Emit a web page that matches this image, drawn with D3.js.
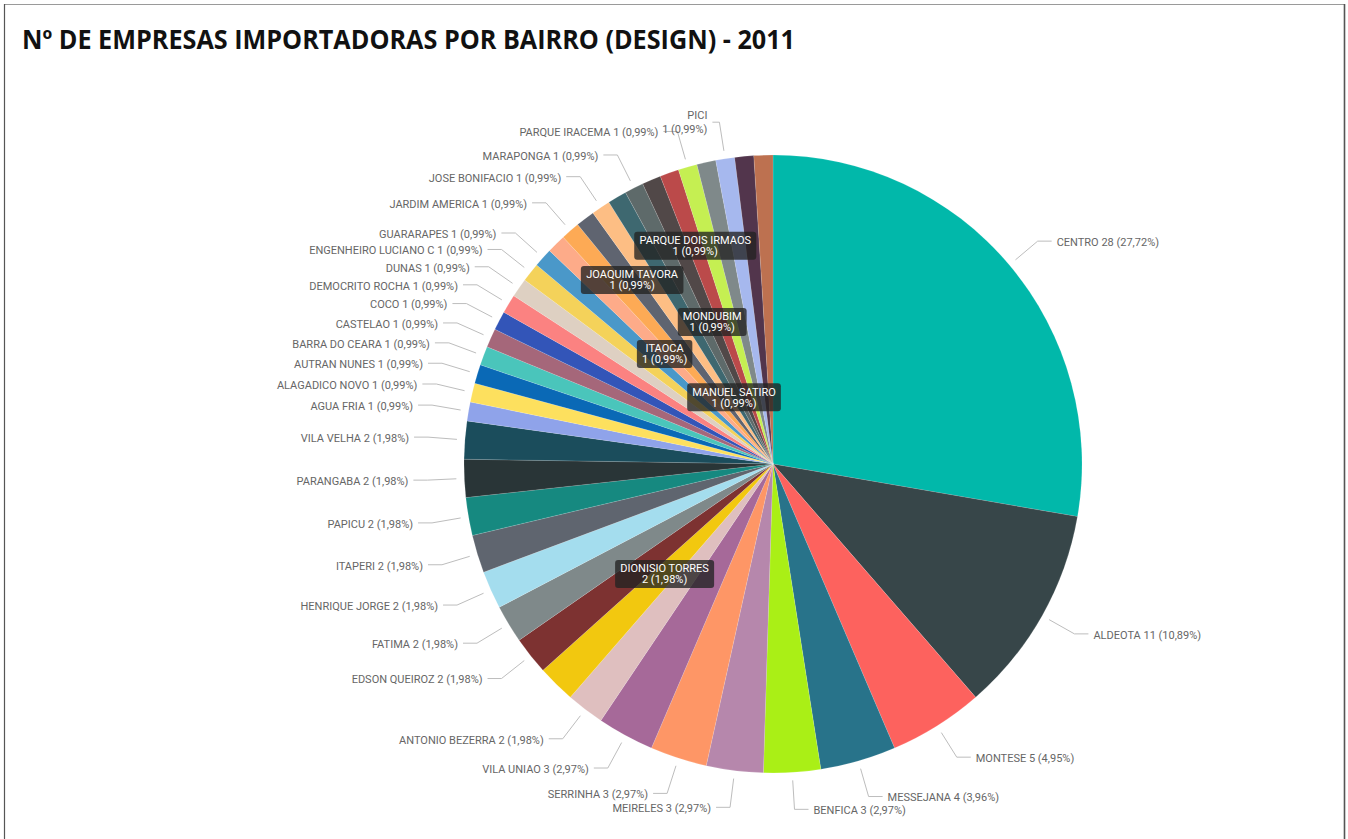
<!DOCTYPE html>
<html>
<head>
<meta charset="utf-8">
<script src="https://cdn.jsdelivr.net/npm/d3@7"></script>
<style>
  html, body { margin: 0; padding: 0; background: #ffffff; }
  svg { display: block; }
</style>
</head>
<body>
<svg id="chart" width="1348" height="839"></svg>
<script>
// ---------- DATA ----------
const title = "Nº DE EMPRESAS IMPORTADORAS POR BAIRRO (DESIGN) - 2011";

const categories = [
  "CENTRO", "ALDEOTA", "MONTESE", "MESSEJANA", "BENFICA", "MEIRELES", "SERRINHA", "VILA UNIAO",
  "ANTONIO BEZERRA", "DIONISIO TORRES", "EDSON QUEIROZ", "FATIMA", "HENRIQUE JORGE", "ITAPERI",
  "PAPICU", "PARANGABA", "VILA VELHA",
  "AGUA FRIA", "ALAGADICO NOVO", "AUTRAN NUNES", "BARRA DO CEARA", "CASTELAO", "COCO",
  "DEMOCRITO ROCHA", "DUNAS", "ENGENHEIRO LUCIANO C", "GUARARAPES", "ITAOCA", "JARDIM AMERICA",
  "JOAQUIM TAVORA", "JOSE BONIFACIO", "MANUEL SATIRO", "MARAPONGA", "MONDUBIM",
  "PARQUE DOIS IRMAOS", "PARQUE IRACEMA", "PARQUELANDIA", "PICI", "PRAIA DE IRACEMA", "VARJOTA"
];

const values = [
  28, 11, 5, 4, 3, 3, 3, 3,
  2, 2, 2, 2, 2, 2,
  2, 2, 2,
  1, 1, 1, 1, 1, 1,
  1, 1, 1, 1, 1, 1,
  1, 1, 1, 1, 1,
  1, 1, 1, 1, 1, 1
];

// slice colours, in the same order as categories
const palette = [
  "#01B8AA", "#374649", "#FD625E", "#28738A", "#AAEF16", "#B687AC", "#FE9666", "#A66999",
  "#DFBFBF", "#F2C80F", "#7D3231", "#7F898A", "#A4DDEE", "#5F656F",
  "#168980", "#293537", "#1B4D5C",
  "#8FA3EA", "#FDE05E", "#0A69B6", "#4AC5BB", "#A5677A", "#3355B8",
  "#FB8281", "#DED0C2", "#F4D25A", "#4A98C9", "#FDAB89", "#FDAA55",
  "#5F6470", "#FDBE84", "#3E6870", "#5E6A6A", "#514848",
  "#BB4A4A", "#C5EF52", "#7F898A", "#A6B8EE", "#52354C", "#BD7150"
];

// labels drawn inside the pie (Power BI overflow labels): radius as fraction of pie radius
const insideLabels = {
  "PARQUE DOIS IRMAOS": 0.75, "JOAQUIM TAVORA": 0.75,
  "MONDUBIM": 0.5, "ITAOCA": 0.5, "DIONISIO TORRES": 0.5,
  "MANUEL SATIRO": 0.25
};
const hiddenLabels = ["PARQUELANDIA", "PRAIA DE IRACEMA", "VARJOTA"];
const wrappedLabels = ["PICI"];

// ---------- LAYOUT ----------
const W = 1348, H = 839;
const cx = 773, cy = 464, R = 309;
const total = d3.sum(values);
const fmtPct = v => (v / total * 100).toFixed(2).replace(".", ",") + "%";

const svg = d3.select("#chart");

// frame
svg.append("line").attr("x1", 4).attr("x2", 1345).attr("y1", 4.5).attr("y2", 4.5)
  .attr("stroke", "#9a9a9a").attr("stroke-width", 1);
svg.append("line").attr("x1", 4.5).attr("x2", 4.5).attr("y1", 4).attr("y2", H)
  .attr("stroke", "#555").attr("stroke-width", 1.2);
svg.append("line").attr("x1", 1344.5).attr("x2", 1344.5).attr("y1", 4).attr("y2", H)
  .attr("stroke", "#555").attr("stroke-width", 1.6);

// title
svg.append("text")
  .attr("x", 22).attr("y", 49)
  .attr("font-family", "'Open Sans', 'DejaVu Sans', sans-serif")
  .attr("font-weight", 700)
  .attr("font-size", 26)
  .attr("fill", "#111")
  .attr("textLength", 773)
  .attr("lengthAdjust", "spacingAndGlyphs")
  .text(title);

const data = categories.map((c, i) => ({ name: c, value: values[i], color: palette[i] }));

const pie = d3.pie().sort(null).value(d => d.value).startAngle(0).endAngle(2 * Math.PI);
const arcs = pie(data);
const arc = d3.arc().innerRadius(0).outerRadius(R);

const g = svg.append("g").attr("transform", `translate(${cx},${cy})`);

g.selectAll("path.slice")
  .data(arcs)
  .join("path")
  .attr("class", "slice")
  .attr("d", arc)
  .attr("fill", d => d.data.color)
  .attr("stroke", "#ffffff")
  .attr("stroke-width", 0.25)
  .attr("stroke-opacity", 0.5);

// ---------- OUTSIDE LABELS ----------
const polar = (a, r) => [r * Math.sin(a), -r * Math.cos(a)];
const startR = R + 8, elbowR = R + 37, gap = 5;
const labelFont = "Roboto, 'Noto Sans', sans-serif";

const outside = arcs.filter(d => !(d.data.name in insideLabels) && !hiddenLabels.includes(d.data.name));

outside.forEach(d => {
  const a = (d.startAngle + d.endAngle) / 2;
  const wrapped = wrappedLabels.includes(d.data.name);
  const hLen = wrapped ? 7 : 14;
  const p0 = polar(a, startR);
  const p1 = polar(a, elbowR);
  const right = p1[0] >= 0;
  const p2 = [p1[0] + (right ? hLen : -hLen), p1[1]];
  g.append("polyline")
    .attr("points", [p0, p1, p2].map(p => p.join(",")).join(" "))
    .attr("fill", "none")
    .attr("stroke", "#bdbdbd")
    .attr("stroke-width", 1);

  const tx = p2[0] + (right ? gap : -gap);
  const t = g.append("text")
    .attr("x", tx)
    .attr("text-anchor", right ? "start" : "end")
    .attr("font-family", labelFont)
    .attr("font-size", 11)
    .attr("fill", "#666666");
  const valTxt = `${d.data.value} (${fmtPct(d.data.value)})`;
  if (wrapped) {
    t.append("tspan").attr("x", tx).attr("y", p1[1] - 7).attr("dy", "0.35em").text(d.data.name);
    t.append("tspan").attr("x", tx).attr("y", p1[1] + 7).attr("dy", "0.35em").text(valTxt);
  } else {
    t.attr("y", p1[1] + 1).attr("dy", "0.35em").text(`${d.data.name} ${valTxt}`);
  }
});

// ---------- INSIDE LABELS ----------
arcs.filter(d => d.data.name in insideLabels).forEach(d => {
  const a = (d.startAngle + d.endAngle) / 2;
  const [x, y] = polar(a, R * insideLabels[d.data.name]);
  const lg = g.append("g").attr("transform", `translate(${x},${y})`);
  const box = lg.append("rect");
  const t = lg.append("text")
    .attr("text-anchor", "middle")
    .attr("font-family", labelFont)
    .attr("font-size", 11)
    .attr("fill", "#ffffff");
  t.append("tspan").attr("x", 0).attr("y", -5.5).attr("dy", "0.35em").text(d.data.name);
  t.append("tspan").attr("x", 0).attr("y", 5.5).attr("dy", "0.35em").text(`${d.data.value} (${fmtPct(d.data.value)})`);
  const bw = t.node().getBBox().width + 10;
  box.attr("x", -bw / 2).attr("y", -14).attr("width", bw).attr("height", 28)
    .attr("rx", 3).attr("ry", 3)
    .attr("fill", "#222222").attr("fill-opacity", 0.78);
});
</script>
</body>
</html>
